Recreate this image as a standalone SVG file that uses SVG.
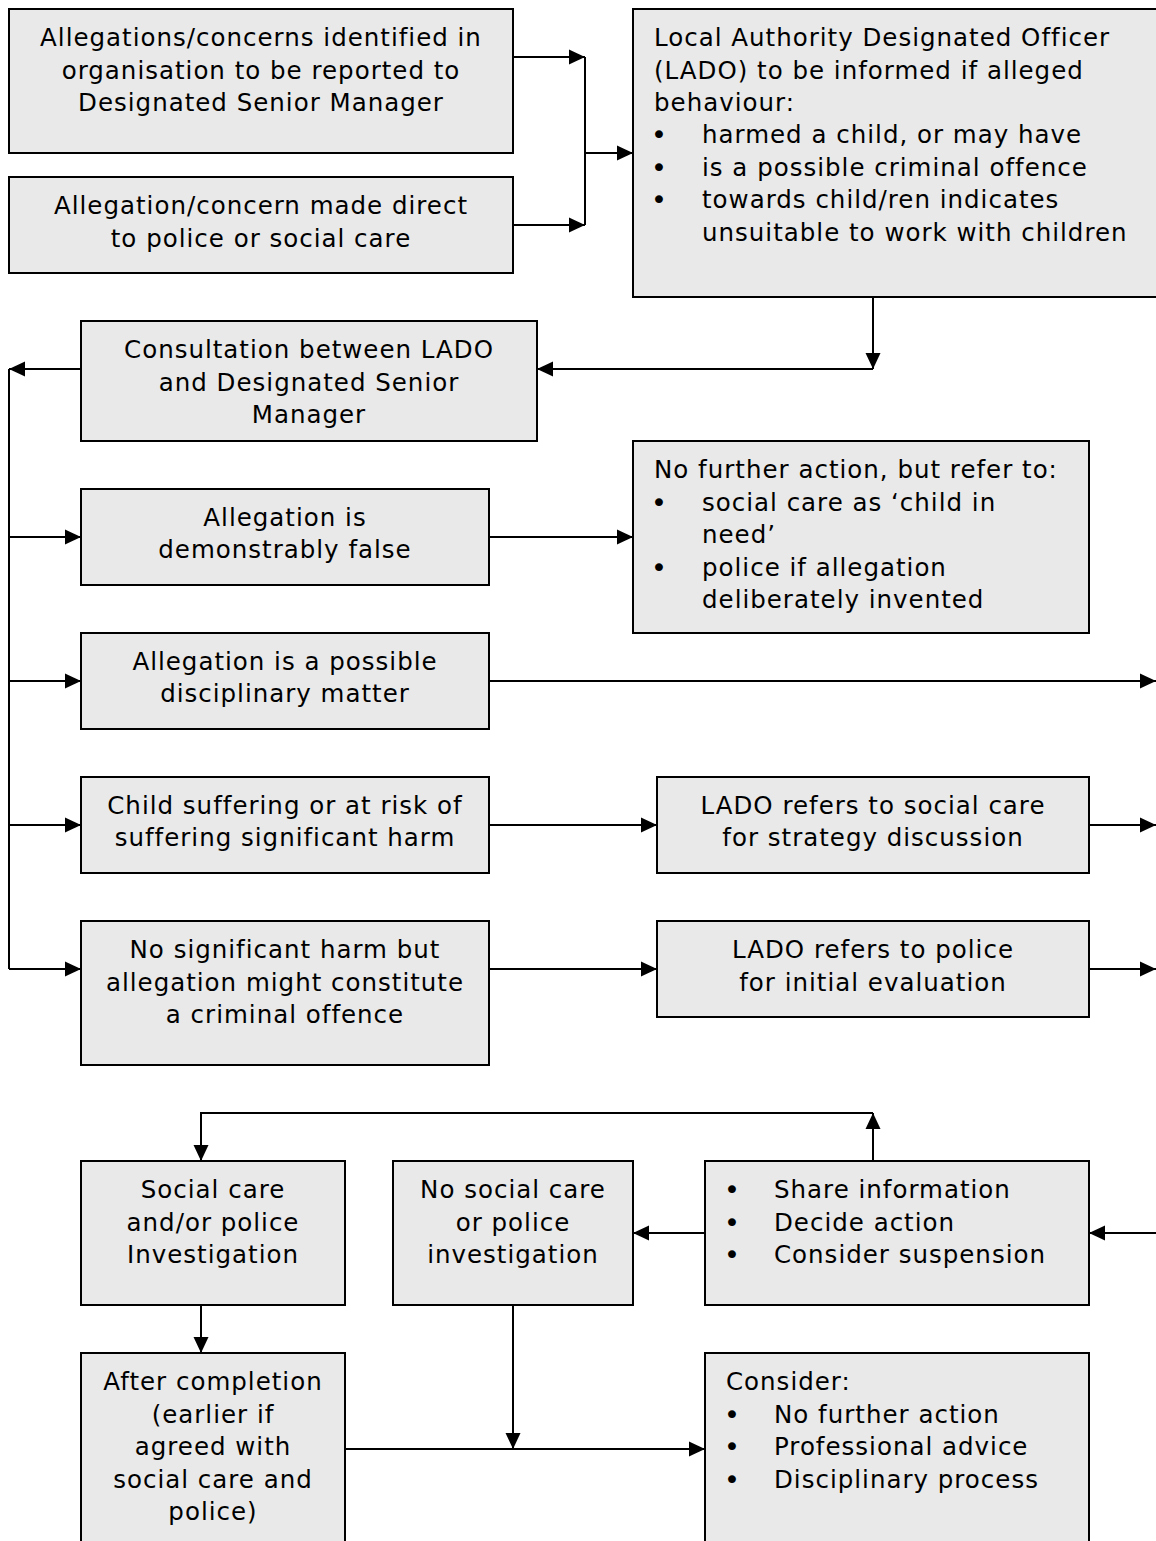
<svg xmlns="http://www.w3.org/2000/svg" width="1156" height="1541" viewBox="0 0 1156 1541">
<style>
.b{fill:#e9e9e9;stroke:#000;stroke-width:2}
text{font-family:"DejaVu Sans","Verdana",sans-serif;font-size:24.5px;letter-spacing:1px;fill:#000}
.c{text-anchor:middle}
.d{font-size:27px}
.l{fill:none;stroke:#000;stroke-width:2}
</style>
<defs>
<marker id="a" markerWidth="16" markerHeight="16" refX="16" refY="8" orient="auto" markerUnits="userSpaceOnUse">
<path d="M0,0.5 L16,8 L0,15.5 Z" fill="#000"/>
</marker>
</defs>
<rect width="1156" height="1541" fill="#fff"/>
<g id="connectors">
<path class="l" d="M513,57 H585" marker-end="url(#a)"/>
<path class="l" d="M513,225 H585" marker-end="url(#a)"/>
<path class="l" d="M585,57 V225"/>
<path class="l" d="M585,153 H633" marker-end="url(#a)"/>
<path class="l" d="M873,297 V369" marker-end="url(#a)"/>
<path class="l" d="M873,369 H537" marker-end="url(#a)"/>
<path class="l" d="M81,369 H9" marker-end="url(#a)"/>
<path class="l" d="M9,369 V969"/>
<path class="l" d="M9,537 H81" marker-end="url(#a)"/>
<path class="l" d="M9,681 H81" marker-end="url(#a)"/>
<path class="l" d="M9,825 H81" marker-end="url(#a)"/>
<path class="l" d="M9,969 H81" marker-end="url(#a)"/>
<path class="l" d="M489,537 H633" marker-end="url(#a)"/>
<path class="l" d="M489,681 H1156" marker-end="url(#a)"/>
<path class="l" d="M489,825 H657" marker-end="url(#a)"/>
<path class="l" d="M1089,825 H1156" marker-end="url(#a)"/>
<path class="l" d="M489,969 H657" marker-end="url(#a)"/>
<path class="l" d="M1089,969 H1156" marker-end="url(#a)"/>
<path class="l" d="M873,1161 V1113" marker-end="url(#a)"/>
<path class="l" d="M873,1113 H201 V1161" marker-end="url(#a)"/>
<path class="l" d="M705,1233 H633" marker-end="url(#a)"/>
<path class="l" d="M1156,1233 H1089" marker-end="url(#a)"/>
<path class="l" d="M201,1305 V1353" marker-end="url(#a)"/>
<path class="l" d="M513,1305 V1449" marker-end="url(#a)"/>
<path class="l" d="M345,1449 H705" marker-end="url(#a)"/>
</g>
<g id="n1"><rect class="b" x="9" y="9" width="504" height="144"/>
<text class="c" x="261" y="46">Allegations/concerns identified in</text>
<text class="c" x="261" y="79">organisation to be reported to</text>
<text class="c" x="261" y="111">Designated Senior Manager</text></g>
<g id="n2"><rect class="b" x="9" y="177" width="504" height="96"/>
<text class="c" x="261" y="214">Allegation/concern made direct</text>
<text class="c" x="261" y="247">to police or social care</text></g>
<g id="n3"><rect class="b" x="633" y="9" width="530" height="288"/>
<text x="654" y="46">Local Authority Designated Officer</text>
<text x="654" y="79">(LADO) to be informed if alleged</text>
<text x="654" y="111">behaviour:</text>
<text class="d" x="651" y="144">•</text><text x="702" y="143">harmed a child, or may have</text>
<text class="d" x="651" y="177">•</text><text x="702" y="176">is a possible criminal offence</text>
<text class="d" x="651" y="209">•</text><text x="702" y="208">towards child/ren indicates</text>
<text x="702" y="241">unsuitable to work with children</text></g>
<g id="n4"><rect class="b" x="81" y="321" width="456" height="120"/>
<text class="c" x="309" y="358">Consultation between LADO</text>
<text class="c" x="309" y="391">and Designated Senior</text>
<text class="c" x="309" y="423">Manager</text></g>
<g id="n5"><rect class="b" x="81" y="489" width="408" height="96"/>
<text class="c" x="285" y="526">Allegation is</text>
<text class="c" x="285" y="558">demonstrably false</text></g>
<g id="n6"><rect class="b" x="633" y="441" width="456" height="192"/>
<text x="654" y="478">No further action, but refer to:</text>
<text class="d" x="651" y="512">•</text><text x="702" y="511">social care as ‘child in</text>
<text x="702" y="543">need’</text>
<text class="d" x="651" y="577">•</text><text x="702" y="576">police if allegation</text>
<text x="702" y="608">deliberately invented</text></g>
<g id="n7"><rect class="b" x="81" y="633" width="408" height="96"/>
<text class="c" x="285" y="670">Allegation is a possible</text>
<text class="c" x="285" y="702">disciplinary matter</text></g>
<g id="n8"><rect class="b" x="81" y="777" width="408" height="96"/>
<text class="c" x="285" y="814">Child suffering or at risk of</text>
<text class="c" x="285" y="846">suffering significant harm</text></g>
<g id="n9"><rect class="b" x="657" y="777" width="432" height="96"/>
<text class="c" x="873" y="814">LADO refers to social care</text>
<text class="c" x="873" y="846">for strategy discussion</text></g>
<g id="n10"><rect class="b" x="81" y="921" width="408" height="144"/>
<text class="c" x="285" y="958">No significant harm but</text>
<text class="c" x="285" y="991">allegation might constitute</text>
<text class="c" x="285" y="1023">a criminal offence</text></g>
<g id="n11"><rect class="b" x="657" y="921" width="432" height="96"/>
<text class="c" x="873" y="958">LADO refers to police</text>
<text class="c" x="873" y="991">for initial evaluation</text></g>
<g id="n12"><rect class="b" x="81" y="1161" width="264" height="144"/>
<text class="c" x="213" y="1198">Social care</text>
<text class="c" x="213" y="1231">and/or police</text>
<text class="c" x="213" y="1263">Investigation</text></g>
<g id="n13"><rect class="b" x="393" y="1161" width="240" height="144"/>
<text class="c" x="513" y="1198">No social care</text>
<text class="c" x="513" y="1231">or police</text>
<text class="c" x="513" y="1263">investigation</text></g>
<g id="n14"><rect class="b" x="705" y="1161" width="384" height="144"/>
<text class="d" x="724" y="1199">•</text><text x="774" y="1198">Share information</text>
<text class="d" x="724" y="1232">•</text><text x="774" y="1231">Decide action</text>
<text class="d" x="724" y="1264">•</text><text x="774" y="1263">Consider suspension</text></g>
<g id="n15"><rect class="b" x="81" y="1353" width="264" height="200"/>
<text class="c" x="213" y="1390">After completion</text>
<text class="c" x="213" y="1423">(earlier if</text>
<text class="c" x="213" y="1455">agreed with</text>
<text class="c" x="213" y="1488">social care and</text>
<text class="c" x="213" y="1520">police)</text></g>
<g id="n16"><rect class="b" x="705" y="1353" width="384" height="200"/>
<text x="726" y="1390">Consider:</text>
<text class="d" x="724" y="1424">•</text><text x="774" y="1423">No further action</text>
<text class="d" x="724" y="1456">•</text><text x="774" y="1455">Professional advice</text>
<text class="d" x="724" y="1489">•</text><text x="774" y="1488">Disciplinary process</text></g>
</svg>
